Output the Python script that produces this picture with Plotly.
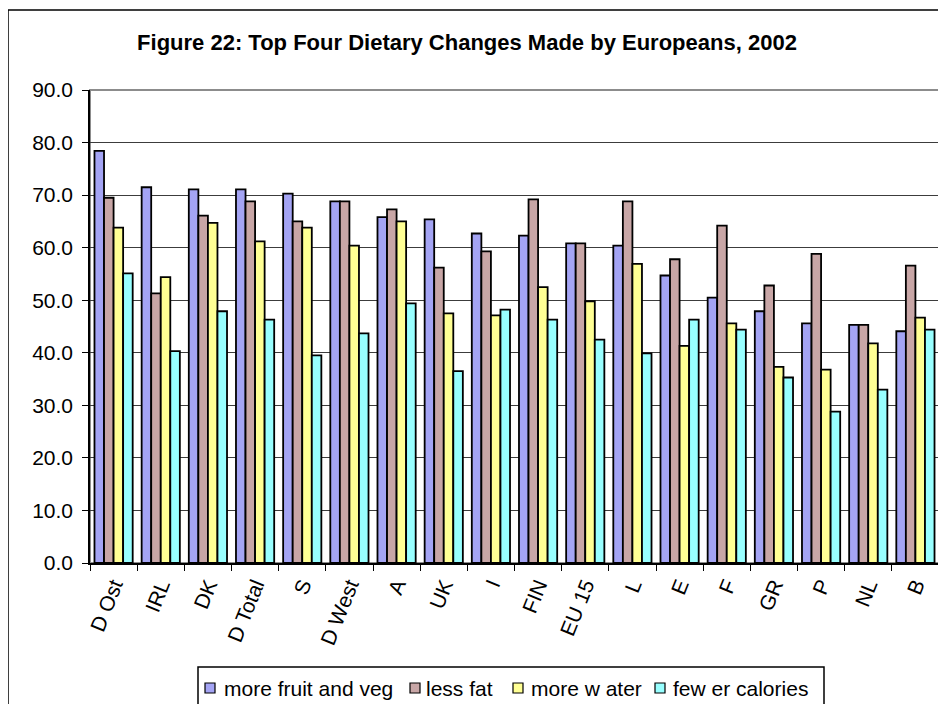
import plotly.graph_objects as go

categories = ["D Ost", "IRL", "DK", "D Total", "S", "D West", "A", "UK", "I",
              "FIN", "EU 15", "L", "E", "F", "GR", "P", "NL", "B"]
fruit_veg = [78.4, 71.5, 71.1, 71.1, 70.3, 68.8, 65.8, 65.4, 62.7,
             62.3, 60.8, 60.4, 54.7, 50.5, 47.9, 45.6, 45.3, 44.1]
less_fat = [69.5, 51.3, 66.1, 68.8, 65.0, 68.8, 67.3, 56.2, 59.3,
            69.2, 60.8, 68.8, 57.8, 64.2, 52.8, 58.8, 45.3, 56.6]
more_water = [63.8, 54.4, 64.7, 61.2, 63.8, 60.4, 65.0, 47.5, 47.1,
              52.5, 49.8, 56.9, 41.3, 45.6, 37.3, 36.8, 41.8, 46.7]
fewer_cal = [55.1, 40.3, 47.9, 46.3, 39.5, 43.7, 49.4, 36.5, 48.2,
             46.3, 42.5, 39.9, 46.3, 44.4, 35.3, 28.8, 33.0, 44.4]
series_names = ["more fruit and veg", "less fat", "more w ater", "few er calories"]
y_ticks = [0, 10, 20, 30, 40, 50, 60, 70, 80, 90]

colors = ["#a4a4f4", "#c8a6a6", "#ffff94", "#98ffff"]
series = [fruit_veg, less_fat, more_water, fewer_cal]

FONT = "Liberation Sans, Arial, sans-serif"

fig = go.Figure()
for name, vals, col in zip(series_names, series, colors):
    fig.add_trace(go.Bar(
        x=categories, y=vals, name=name, showlegend=False,
        marker=dict(color=col, line=dict(color="black", width=1.8)),
    ))

# the page places the figure 8px from the top-left corner
OFF = 8
W, H = 946 - OFF, 704 - OFF
# target plot area in page pixels: x 90..939, y 90..563
L, T = 90 - OFF, 90 - OFF
R = W - (939 - OFF)
B = H - (563 - OFF)
pw, ph = W - L - R, H - T - B

def px_x(p):
    return (p - OFF - L) / pw

def px_y(p):
    return 1 - (p - OFF - T) / ph

shapes = [
    # outer chart frame
    dict(type="rect", xref="paper", yref="paper",
         x0=px_x(8), x1=px_x(960), y0=px_y(730), y1=px_y(10),
         line=dict(color="black", width=1.5), fillcolor="rgba(0,0,0,0)", layer="below"),
    # plot area border
    dict(type="rect", xref="paper", yref="paper", x0=0, x1=1, y0=0, y1=1,
         line=dict(color="#8c8c8c", width=2), fillcolor="rgba(0,0,0,0)", layer="below"),
    # legend box
    dict(type="rect", xref="paper", yref="paper",
         x0=px_x(198), x1=px_x(824), y0=px_y(720), y1=px_y(667),
         line=dict(color="black", width=1.5), fillcolor="white", layer="above"),
]

annotations = []
sw_x = [205, 410, 513, 655]
tx_x = [222, 424, 529, 671]
for sx, tx, name, col in zip(sw_x, tx_x, series_names, colors):
    shapes.append(dict(type="rect", xref="paper", yref="paper",
                       x0=px_x(sx), x1=px_x(sx + 10), y0=px_y(693), y1=px_y(683),
                       line=dict(color="black", width=1.2), fillcolor=col, layer="above"))
    annotations.append(dict(text=name, xref="paper", yref="paper",
                            x=px_x(tx), y=px_y(688), xanchor="left", yanchor="middle",
                            showarrow=False, font=dict(family=FONT, size=21, color="black")))

fig.update_layout(
    width=W, height=H,
    margin=dict(l=L, r=R, t=T, b=B, pad=0, autoexpand=False),
    paper_bgcolor="white", plot_bgcolor="white",
    barmode="group", bargap=0.19, bargroupgap=0,
    title=dict(text="<b>Figure 22: Top Four Dietary Changes Made by Europeans, 2002</b>",
               x=(467 - OFF) / W, xanchor="center", xref="container",
               y=1 - (42 - OFF) / H, yanchor="middle", yref="container",
               font=dict(family=FONT, size=22, color="black")),
    font=dict(family=FONT, size=21, color="black"),
    showlegend=False,
    shapes=shapes,
    annotations=annotations,
)
fig.update_yaxes(range=[0, 90], tickvals=y_ticks, tickformat=".1f",
                 showgrid=True, gridcolor="#3c3c3c", gridwidth=1,
                 showline=True, linecolor="black", linewidth=1.5,
                 ticks="outside", ticklen=6, tickcolor="black", ticklabelstandoff=5,
                 zeroline=False, tickfont=dict(family=FONT, size=21))
fig.update_xaxes(showline=True, linecolor="black", linewidth=1.5,
                 ticks="outside", ticklen=6, tickcolor="black", tickson="boundaries",
                 tickangle=-68, tickfont=dict(family=FONT, size=21), showgrid=False)

fig.write_html("out.html")
